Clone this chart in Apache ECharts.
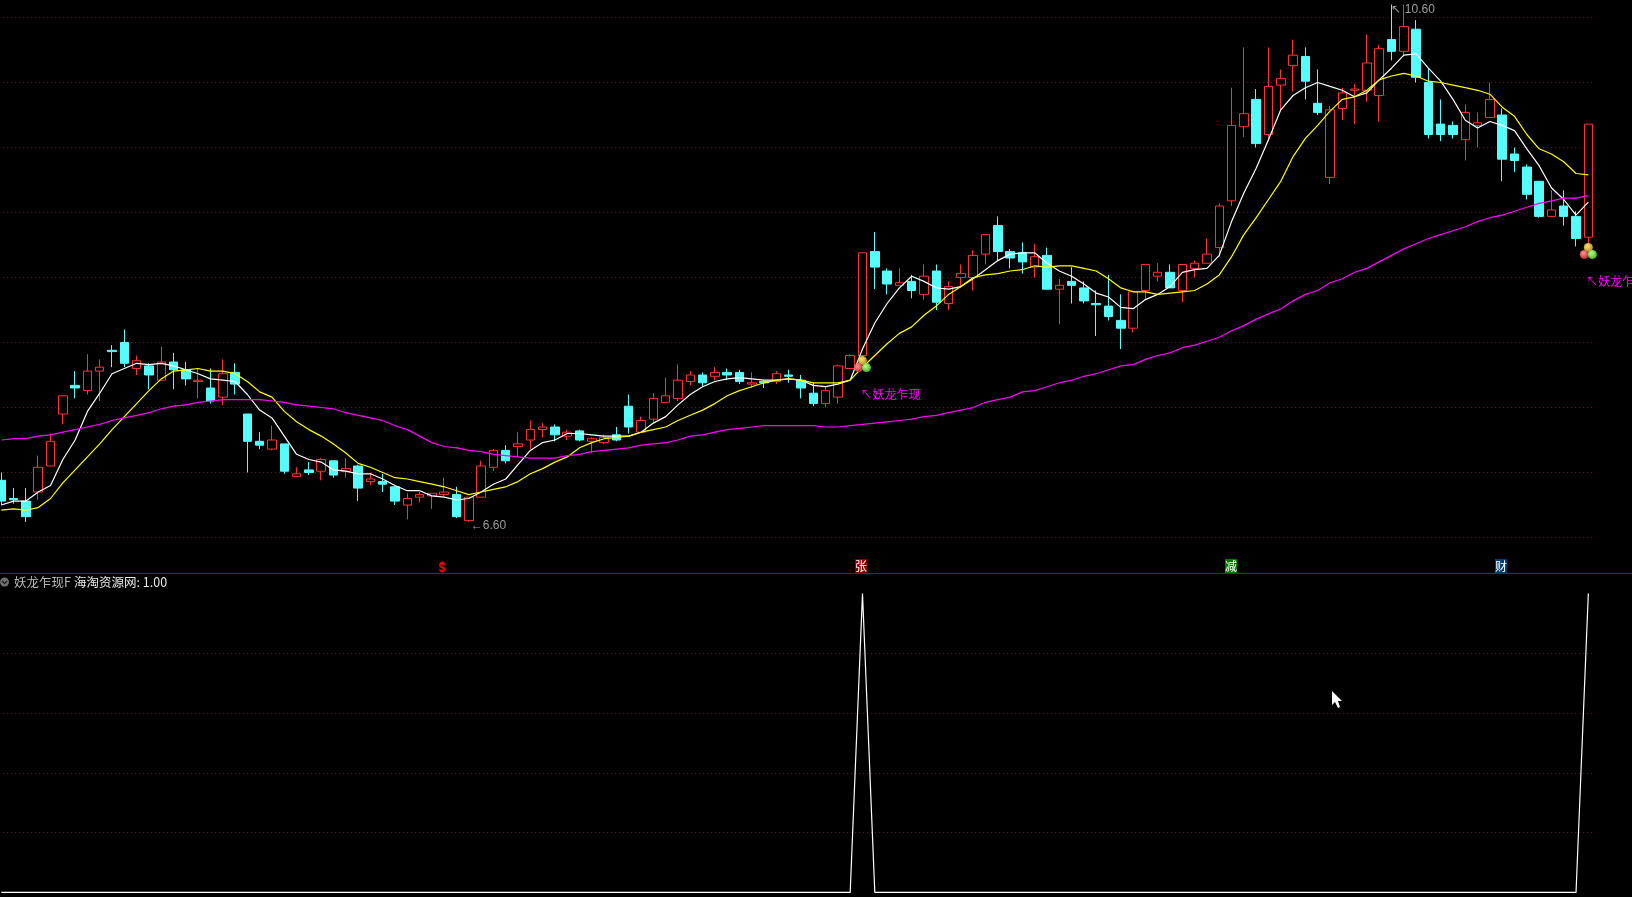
<!DOCTYPE html>
<html><head><meta charset="utf-8">
<style>html,body{margin:0;padding:0;background:#000}#c{width:1632px;height:897px}</style>
<script src="https://cdn.jsdelivr.net/npm/echarts@6/dist/echarts.min.js"></script>
</head><body><div id="c"></div>
<script>
// [open, close, low, high]
const candles = [
[6.94,6.78,6.75,7.00],[6.80,6.79,6.76,6.88],[6.78,6.66,6.62,6.88],[6.85,7.04,6.79,7.13],[7.05,7.24,7.05,7.30],
[7.45,7.59,7.37,7.59],[7.67,7.65,7.57,7.78],[7.63,7.78,7.60,7.91],[7.78,7.81,7.55,7.87],[7.94,7.93,7.81,7.98],
[8.00,7.84,7.81,8.10],[7.80,7.86,7.75,7.90],[7.82,7.75,7.64,7.84],[7.71,7.85,7.71,7.97],[7.85,7.79,7.64,7.92],
[7.79,7.72,7.67,7.85],[7.70,7.71,7.57,7.80],[7.65,7.55,7.53,7.80],[7.58,7.76,7.52,7.87],[7.77,7.68,7.60,7.84],
[7.45,7.24,7.00,7.45],[7.24,7.21,7.18,7.31],[7.18,7.25,7.17,7.36],[7.22,7.01,6.99,7.22],[6.97,6.99,6.97,7.04],
[7.02,7.00,6.98,7.08],[7.01,7.10,6.94,7.11],[7.09,6.98,6.96,7.09],[7.01,7.03,6.96,7.11],[7.05,6.88,6.78,7.06],
[6.93,6.95,6.90,7.00],[6.93,6.91,6.85,6.99],[6.89,6.78,6.75,6.90],[6.75,6.80,6.64,6.84],[6.81,6.83,6.77,6.85],
[6.82,6.84,6.72,6.84],[6.83,6.85,6.81,6.96],[6.83,6.66,6.65,6.89],[6.63,6.81,6.62,6.81],[6.81,7.05,6.81,7.09],
[7.04,7.17,7.01,7.18],[7.17,7.09,7.07,7.21],[7.20,7.22,7.12,7.31],[7.25,7.33,7.18,7.40],[7.33,7.35,7.27,7.38],
[7.35,7.29,7.24,7.37],[7.28,7.31,7.25,7.33],[7.32,7.25,7.24,7.33],[7.24,7.26,7.15,7.27],[7.23,7.27,7.22,7.29],
[7.29,7.25,7.24,7.35],[7.51,7.35,7.30,7.60],[7.31,7.40,7.31,7.43],[7.41,7.57,7.38,7.61],[7.54,7.59,7.54,7.73],
[7.57,7.71,7.55,7.83],[7.70,7.75,7.67,7.78],[7.75,7.69,7.66,7.77],[7.74,7.77,7.71,7.81],[7.77,7.75,7.71,7.80],
[7.77,7.70,7.68,7.79],[7.68,7.69,7.65,7.77],[7.70,7.69,7.65,7.71],[7.70,7.76,7.68,7.78],[7.75,7.74,7.69,7.79],
[7.71,7.65,7.57,7.75],[7.61,7.53,7.51,7.69],[7.53,7.63,7.50,7.66],[7.58,7.82,7.53,7.83],[7.80,7.90,7.80,7.91],
[7.90,8.69,7.87,8.69],[8.70,8.58,8.41,8.85],[8.55,8.45,8.37,8.57],[8.44,8.46,8.44,8.57],[8.47,8.40,8.34,8.52],
[8.37,8.51,8.33,8.60],[8.55,8.31,8.25,8.60],[8.30,8.43,8.25,8.47],[8.50,8.53,8.42,8.60],[8.50,8.67,8.40,8.71],
[8.68,8.83,8.60,8.83],[8.90,8.70,8.63,8.97],[8.70,8.65,8.57,8.72],[8.69,8.62,8.53,8.77],[8.58,8.66,8.50,8.76],
[8.67,8.41,8.41,8.73],[8.41,8.44,8.14,8.49],[8.47,8.44,8.30,8.58],[8.42,8.32,8.30,8.47],[8.30,8.29,8.05,8.40],
[8.28,8.20,8.17,8.52],[8.17,8.11,7.95,8.37],[8.11,8.39,8.08,8.40],[8.40,8.60,8.33,8.60],[8.51,8.54,8.47,8.61],
[8.54,8.42,8.42,8.60],[8.40,8.60,8.31,8.60],[8.57,8.61,8.50,8.63],[8.61,8.68,8.61,8.80],[8.73,9.05,8.66,9.07],
[9.09,9.67,9.05,9.96],[9.66,9.76,9.58,10.27],[9.87,9.53,9.50,9.95],[9.60,9.97,9.55,10.27],[9.98,10.03,9.79,10.10],
[10.13,10.21,9.93,10.33],[10.20,10.01,9.87,10.27],[9.84,9.77,9.75,10.10],[9.27,9.79,9.22,9.82],[9.80,9.92,9.71,9.96],
[9.94,9.95,9.68,9.99],[9.94,10.15,9.85,10.37],[9.90,10.26,9.70,10.29],[10.33,10.24,10.17,10.60],[10.24,10.43,10.20,10.60],
[10.41,10.04,10.00,10.48],[10.00,9.60,9.57,10.11],[9.68,9.60,9.55,9.87],[9.67,9.60,9.57,9.70],[9.56,9.77,9.40,9.83],
[9.67,9.69,9.50,9.77],[9.73,9.87,9.73,10.00],[9.75,9.41,9.24,9.80],[9.45,9.40,9.31,9.50],[9.35,9.14,9.10,9.37],
[9.24,8.97,8.96,9.24],[8.97,9.02,8.97,9.17],[9.05,8.97,8.90,9.17],[8.97,8.80,8.74,9.01],[8.81,9.68,8.75,9.68]
];
const maWhite = [
6.75,6.78,6.78,6.85,6.90,7.10,7.25,7.47,7.61,7.76,7.80,7.84,7.83,7.84,7.82,7.79,7.76,7.72,7.71,7.70,
7.60,7.48,7.42,7.28,7.14,7.10,7.08,7.02,7.01,6.99,6.99,6.95,6.90,6.86,6.86,
6.82,6.81,6.79,6.80,6.85,6.91,6.95,7.06,7.17,7.23,7.25,7.30,7.30,7.29,7.28,7.28,7.28,7.31,7.38,7.43,
7.52,7.60,7.66,7.70,7.72,7.73,7.72,7.71,7.71,7.72,7.71,7.67,
7.66,7.68,7.71,7.95,8.15,8.30,8.42,8.51,8.47,8.42,8.41,8.43,8.49,8.56,8.63,8.68,8.69,8.69,8.61,8.55,
8.51,8.45,8.38,8.35,8.27,8.26,8.33,8.37,8.43,8.54,8.56,8.57,8.67,
8.93,9.15,9.34,9.56,9.79,9.90,9.96,10.00,9.97,9.94,9.89,9.92,10.02,10.11,10.21,10.22,10.11,10.01,9.87,9.71,
9.65,9.70,9.67,9.63,9.49,9.36,9.19,9.10,8.98,9.08];
const maYellow = [
6.71,6.72,6.71,6.73,6.80,6.92,7.02,7.12,7.22,7.33,7.43,7.53,7.63,7.72,7.78,7.79,7.80,7.78,7.78,7.76,
7.70,7.62,7.58,7.47,7.39,7.33,7.28,7.22,7.15,7.07,7.04,7.00,6.96,6.95,6.93,
6.91,6.89,6.86,6.83,6.85,6.87,6.89,6.93,6.99,7.03,7.08,7.12,7.19,7.23,7.26,7.27,7.28,7.31,7.33,7.35,
7.40,7.44,7.48,7.53,7.59,7.63,7.66,7.69,7.71,7.72,7.71,7.69,
7.69,7.69,7.71,7.81,7.90,7.99,8.07,8.12,8.21,8.28,8.37,8.43,8.50,8.52,8.53,8.55,8.56,8.59,8.58,8.59,
8.59,8.57,8.55,8.49,8.42,8.39,8.39,8.37,8.38,8.39,8.40,8.45,8.52,
8.66,8.83,8.96,9.10,9.24,9.43,9.57,9.67,9.78,9.87,9.89,9.94,10.02,10.05,10.07,10.05,10.01,10.00,9.98,9.96,
9.94,9.91,9.81,9.74,9.60,9.49,9.45,9.39,9.30,9.29];
const maMagenta = [
7.25,7.26,7.26,7.28,7.29,7.31,7.33,7.35,7.37,7.40,7.42,7.44,7.46,7.49,7.51,7.52,7.54,7.55,7.56,7.56,
7.56,7.56,7.55,7.54,7.52,7.51,7.50,7.49,7.46,7.44,7.42,7.40,7.36,7.33,7.28,
7.23,7.20,7.19,7.17,7.16,7.14,7.13,7.12,7.11,7.11,7.11,7.13,7.14,7.16,7.17,7.18,7.19,7.21,7.22,7.23,
7.25,7.28,7.29,7.31,7.33,7.34,7.35,7.36,7.36,7.36,7.36,7.36,
7.35,7.35,7.36,7.37,7.38,7.39,7.40,7.41,7.43,7.44,7.46,7.48,7.50,7.54,7.56,7.58,7.62,7.63,7.66,7.69,
7.71,7.74,7.76,7.79,7.82,7.83,7.87,7.90,7.92,7.96,7.98,8.01,8.04,
8.09,8.13,8.18,8.22,8.26,8.32,8.37,8.40,8.46,8.49,8.54,8.57,8.62,8.67,8.72,8.76,8.80,8.83,8.86,8.89,
8.93,8.96,8.98,9.01,9.04,9.07,9.09,9.11,9.11,9.13];
const signalIdx = [70, 129];            // bars where the signal fires
const signalPrice = [7.83, 8.70];       // price level of the marker balls
const signalName = '妖龙乍现';
const extremes = [[38, 6.60, '6.60'], [113, 10.60, '10.60']];
const panelTitle = '妖龙乍现F';
const panelValue = '海淘资源网: 1.00';
const indicator = candles.map((_, i) => signalIdx.includes(i) ? 1 : 0);
const cats = candles.map((_, i) => String(i));
const badgeLabels = [['张', '#8B0000'], ['减', '#007A00'], ['财', '#003C78']];

const RED = '#FF3232', CYAN = '#54FCFC', GRID = '#A80000';
const ballSeries = (col, hi, off, withLabel) => ({
  type: 'scatter', xAxisIndex: 0, yAxisIndex: 0, silent: true, z: 6, symbolSize: 9, symbolOffset: off,
  data: signalIdx.map((x, i) => [x, signalPrice[i]]),
  itemStyle: {opacity: 1, color: {type: 'radial', x: .4, y: .35, r: .7, colorStops: [{offset: 0, color: hi}, {offset: 1, color: col}]}},
  label: withLabel ? {show: true, position: 'bottom', align: 'left', distance: 12, offset: [2, 4], formatter: '↖' + signalName,
    color: '#FF00FF', fontSize: 12, fontFamily: '"Noto Sans CJK SC"'} : {show: false}
});
const extremeLabel = (d, offs, glyph) => ({
  type: 'scatter', xAxisIndex: 0, yAxisIndex: 0, silent: true, z: 7, symbolSize: 0,
  data: [[d[0], d[1]]],
  label: {show: true, position: 'right', distance: 0, offset: offs, formatter: glyph + d[2],
    color: '#C0C0C0', fontSize: 12, fontFamily: '"Liberation Sans"'}
});
const badgeBox = (cx, txt, bg) => [
  {type: 'rect', shape: {x: cx - 6, y: 559, width: 12, height: 14}, style: {fill: bg}, silent: true},
  {type: 'text', x: cx, y: 566, style: {text: txt, fill: '#FFFFFF', font: '12px "Noto Sans CJK SC"', align: 'center', verticalAlign: 'middle'}}
];

const option = {
  backgroundColor: '#000', animation: false,
  grid: [
    {left: -4.82, width: 1599.3, top: -47.5, height: 585, outerBoundsMode: 'none'},
    {left: -4.82, width: 1599.3, top: 593.4, height: 299, outerBoundsMode: 'none'}
  ],
  xAxis: [
    {type: 'category', gridIndex: 0, data: cats, boundaryGap: true, show: false},
    {type: 'category', gridIndex: 1, data: cats, boundaryGap: true, show: false}
  ],
  yAxis: [
    {type: 'value', gridIndex: 0, min: 6.5, max: 11, interval: 0.5, axisLine: {show: false}, axisTick: {show: false}, axisLabel: {show: false},
     splitLine: {show: true, lineStyle: {color: GRID, type: [1, 3], width: 1}}},
    {type: 'value', gridIndex: 1, min: 0, max: 1, interval: 0.2, axisLine: {show: false}, axisTick: {show: false}, axisLabel: {show: false},
     splitLine: {show: true, showMaxLine: false, showMinLine: false, lineStyle: {color: GRID, type: [1, 3], width: 1}}}
  ],
  series: [
    {type: 'candlestick', xAxisIndex: 0, yAxisIndex: 0, data: candles, barWidth: 9, clip: false, z: 2,
     itemStyle: {color: '#000', color0: CYAN, borderColor: RED, borderColor0: CYAN, borderWidth: 1}},
    {type: 'line', xAxisIndex: 0, yAxisIndex: 0, data: maWhite, symbol: 'none', z: 3, lineStyle: {color: '#FFFFFF', width: 1.2}},
    {type: 'line', xAxisIndex: 0, yAxisIndex: 0, data: maYellow, symbol: 'none', z: 3, lineStyle: {color: '#FFFF00', width: 1.2}},
    {type: 'line', xAxisIndex: 0, yAxisIndex: 0, data: maMagenta, symbol: 'none', z: 3, lineStyle: {color: '#FF00FF', width: 1.2}},
    ballSeries('#B08A10', '#FFE27A', [0, -4], false),
    ballSeries('#C02020', '#FF9A9A', [-4, 3], true),
    ballSeries('#40B020', '#B8FF8A', [4, 3], false),
    extremeLabel(extremes[0], [2, 1], '←'),
    extremeLabel(extremes[1], [0, 5], '↖ '),
    {type: 'line', xAxisIndex: 1, yAxisIndex: 1, data: indicator, symbol: 'none', lineStyle: {color: '#FFFFFF', width: 1.2}}
  ],
  graphic: [
    {type: 'rect', shape: {x: 0, y: 573, width: 1632, height: 1}, style: {fill: '#A00000'}, silent: true},
    {type: 'circle', shape: {cx: 4.5, cy: 582, r: 4.5}, style: {fill: '#707070'}, silent: true},
    {type: 'polyline', shape: {points: [[2, 581], [4.5, 583.5], [7, 581]]}, style: {stroke: '#1a1a1a', lineWidth: 1.2, fill: null}, silent: true},
    {type: 'text', x: 14, y: 582, style: {text: panelTitle, fill: '#B8B8B8', font: '12.5px "Noto Sans CJK SC"', verticalAlign: 'middle'}},
    {type: 'text', x: 74, y: 582, style: {text: panelValue, fill: '#E8E8E8', font: '12.5px "Noto Sans CJK SC"', verticalAlign: 'middle'}},
    {type: 'polygon', shape: {points: [[442, 561], [439, 564], [445, 564]]}, style: {fill: '#FF0000'}, silent: true},
    {type: 'text', x: 442, y: 568.5, style: {text: '$', fill: '#FF0000', font: 'bold 12px "Liberation Sans"', align: 'center', verticalAlign: 'middle'}},
    ...badgeBox(861, badgeLabels[0][0], badgeLabels[0][1]),
    ...badgeBox(1231, badgeLabels[1][0], badgeLabels[1][1]),
    ...badgeBox(1501, badgeLabels[2][0], badgeLabels[2][1]),
    {type: 'polygon', shape: {points: [[1332,691],[1332,705],[1335,702],[1338,708],[1340,707],[1338,701],[1342,701]]}, style: {fill: '#fff'}, silent: true}
  ]
};
const chart = echarts.init(document.getElementById('c'), null, {renderer: 'canvas', devicePixelRatio: 1});
chart.setOption(option);
</script></body></html>
